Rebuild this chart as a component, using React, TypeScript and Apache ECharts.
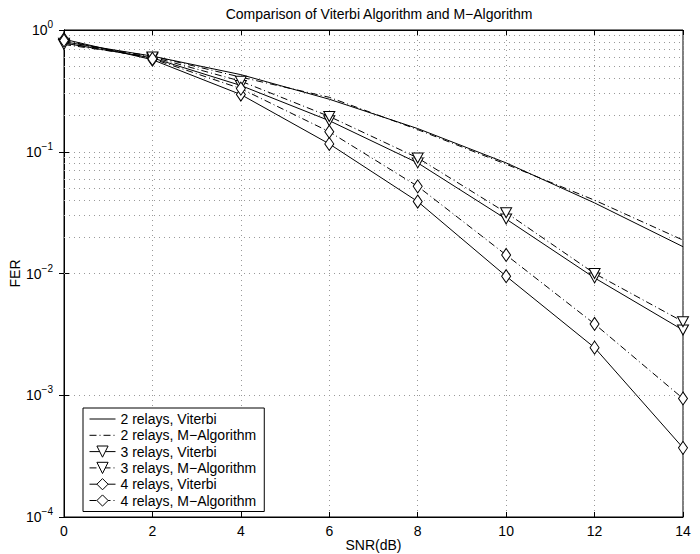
import React, { useEffect, useRef } from "react";
import * as echarts from "echarts";

const snr = [0, 2, 4, 6, 8, 10, 12, 14];
const relay2Viterbi = [0.8, 0.61, 0.43, 0.27, 0.155, 0.081, 0.038, 0.0166];
const relay2M = [0.78, 0.61, 0.41, 0.28, 0.152, 0.079, 0.04, 0.0188];
const relay3Viterbi = [0.78, 0.59, 0.35, 0.18, 0.081, 0.028, 0.0092, 0.00343];
const relay3M = [0.76, 0.6, 0.38, 0.195, 0.089, 0.0316, 0.01, 0.00402];
const relay4Viterbi = [0.84, 0.57, 0.295, 0.116, 0.039, 0.0095, 0.00246, 0.00037];
const relay4M = [0.82, 0.58, 0.33, 0.146, 0.052, 0.0142, 0.00385, 0.00094];

const seriesNames = [
  "2 relays, Viterbi",
  "2 relays, M\u2212Algorithm",
  "3 relays, Viterbi",
  "3 relays, M\u2212Algorithm",
  "4 relays, Viterbi",
  "4 relays, M\u2212Algorithm",
];

const minorMultipliers = [2, 3, 4, 5, 6, 7, 8, 9];
const decades = [1e-4, 1e-3, 1e-2, 1e-1];

const FONT = "Liberation Sans, Arial, Helvetica, sans-serif";
const DASHDOT = [7, 3, 1, 3];
const DOT = [1, 4];

export default function App() {
  const ref = useRef<HTMLDivElement>(null);
  useEffect(() => {
    if (!ref.current) return;
    const chart = echarts.init(ref.current, null, { renderer: "svg" });
    const pair = (arr: number[]) => snr.map((x, i) => [x, arr[i]]);
    const minorLines: any[] = [];
    decades.forEach((d) =>
      minorMultipliers.forEach((m) => minorLines.push({ yAxis: m * d }))
    );
    const markerStyle = { color: "#fff", borderColor: "#000", borderWidth: 1 };
    const hiddenMarker = { color: "transparent", borderColor: "transparent", borderWidth: 0 };
    const mk = (
      name: string,
      data: number[],
      dash: any,
      symbol: string | null,
      size: any,
      rotate = 0
    ) => ({
      name,
      type: "line",
      data: pair(data),
      symbol: symbol || "circle",
      symbolSize: size,
      symbolRotate: rotate,
      showSymbol: !!symbol,
      lineStyle: { color: "#000", width: 1, type: dash },
      itemStyle: symbol ? markerStyle : hiddenMarker,
      z: 5,
    });
    chart.setOption({
      animation: false,
      backgroundColor: "#fff",
      textStyle: { fontFamily: FONT, color: "#000" },
      title: {
        text: "Comparison of Viterbi Algorithm and M\u2212Algorithm",
        left: 374,
        top: 2,
        textAlign: "center",
        textStyle: { fontFamily: FONT, fontSize: 14, fontWeight: "normal", color: "#000" },
      },
      grid: {
        left: 64,
        right: 17,
        top: 30,
        bottom: 37,
        containLabel: false,
        outerBoundsMode: "none",
        show: true,
        borderColor: "#000",
        borderWidth: 1,
        backgroundColor: "transparent",
      },
      legend: {
        orient: "vertical",
        left: 83,
        top: 408,
        itemWidth: 26,
        itemHeight: 14,
        itemGap: 2.3,
        padding: [4, 8, 4, 6],
        backgroundColor: "#fff",
        borderColor: "#000",
        borderWidth: 1,
        borderRadius: 0,
        lineStyle: { width: 1 },
        itemStyle: { borderWidth: 1 },
        textStyle: { fontFamily: FONT, fontSize: 14, color: "#000" },
        data: seriesNames,
      },
      xAxis: [
        {
          type: "value",
          min: 0,
          max: 14,
          interval: 2,
          name: "SNR(dB)",
          nameLocation: "middle",
          nameGap: 21,
          nameMoveOverlap: false,
          nameTextStyle: { fontFamily: FONT, fontSize: 14, color: "#000" },
          axisLine: { show: true, lineStyle: { color: "#000" } },
          axisTick: { show: true, inside: true, length: 5, lineStyle: { color: "#000" } },
          axisLabel: { fontFamily: FONT, fontSize: 14, color: "#000", margin: 7 },
          splitLine: { show: true, lineStyle: { color: "#999", type: DOT, width: 1 } },
        },
        {
          type: "value",
          position: "top",
          min: 0,
          max: 14,
          interval: 2,
          axisLine: { show: true, lineStyle: { color: "#000" } },
          axisTick: { show: true, inside: true, length: 5, lineStyle: { color: "#000" } },
          axisLabel: { show: false },
          splitLine: { show: false },
        },
      ],
      yAxis: [
        {
          type: "log",
          logBase: 10,
          min: 1e-4,
          max: 1,
          name: "FER",
          nameLocation: "middle",
          nameGap: 42,
          nameMoveOverlap: false,
          nameTextStyle: { fontFamily: FONT, fontSize: 14, color: "#000" },
          axisLine: { show: true, lineStyle: { color: "#000" } },
          axisTick: { show: true, inside: true, length: 5, lineStyle: { color: "#000" } },
          axisLabel: {
            margin: 11,
            formatter: (v: number) => {
              const e = Math.round(Math.log10(v));
              return `{b|10}{s|${e === 0 ? "0" : "\u2212" + -e}}`;
            },
            rich: {
              b: { fontFamily: FONT, fontSize: 14, color: "#000" },
              s: { fontFamily: FONT, fontSize: 10, color: "#000", padding: [0, 0, 11, 0] },
            },
          },
          splitLine: { show: true, lineStyle: { color: "#999", type: DOT, width: 1 } },
        },
        {
          type: "log",
          logBase: 10,
          min: 1e-4,
          max: 1,
          position: "right",
          axisLine: { show: true, lineStyle: { color: "#000" } },
          axisTick: { show: true, inside: true, length: 5, lineStyle: { color: "#000" } },
          axisLabel: { show: false },
          splitLine: { show: false },
        },
      ],
      series: [
        {
          name: "minor-grid",
          type: "line",
          data: [],
          silent: true,
          markLine: {
            silent: true,
            symbol: "none",
            label: { show: false },
            lineStyle: { color: "#999", type: DOT, width: 1 },
            data: minorLines,
            animation: false,
          },
        },
        mk(seriesNames[0], relay2Viterbi, "solid", null, 0),
        mk(seriesNames[1], relay2M, DASHDOT, null, 0),
        mk(seriesNames[2], relay3Viterbi, "solid", "triangle", [11, 10], 180),
        mk(seriesNames[3], relay3M, DASHDOT, "triangle", [11, 10], 180),
        mk(seriesNames[4], relay4Viterbi, "solid", "diamond", [9, 13]),
        mk(seriesNames[5], relay4M, DASHDOT, "diamond", [9, 13]),
      ],
    });
    return () => chart.dispose();
  }, []);
  return (
    <div
      ref={ref}
      style={{ position: "fixed", left: 0, top: 0, width: 700, height: 554, background: "#fff" }}
    />
  );
}
